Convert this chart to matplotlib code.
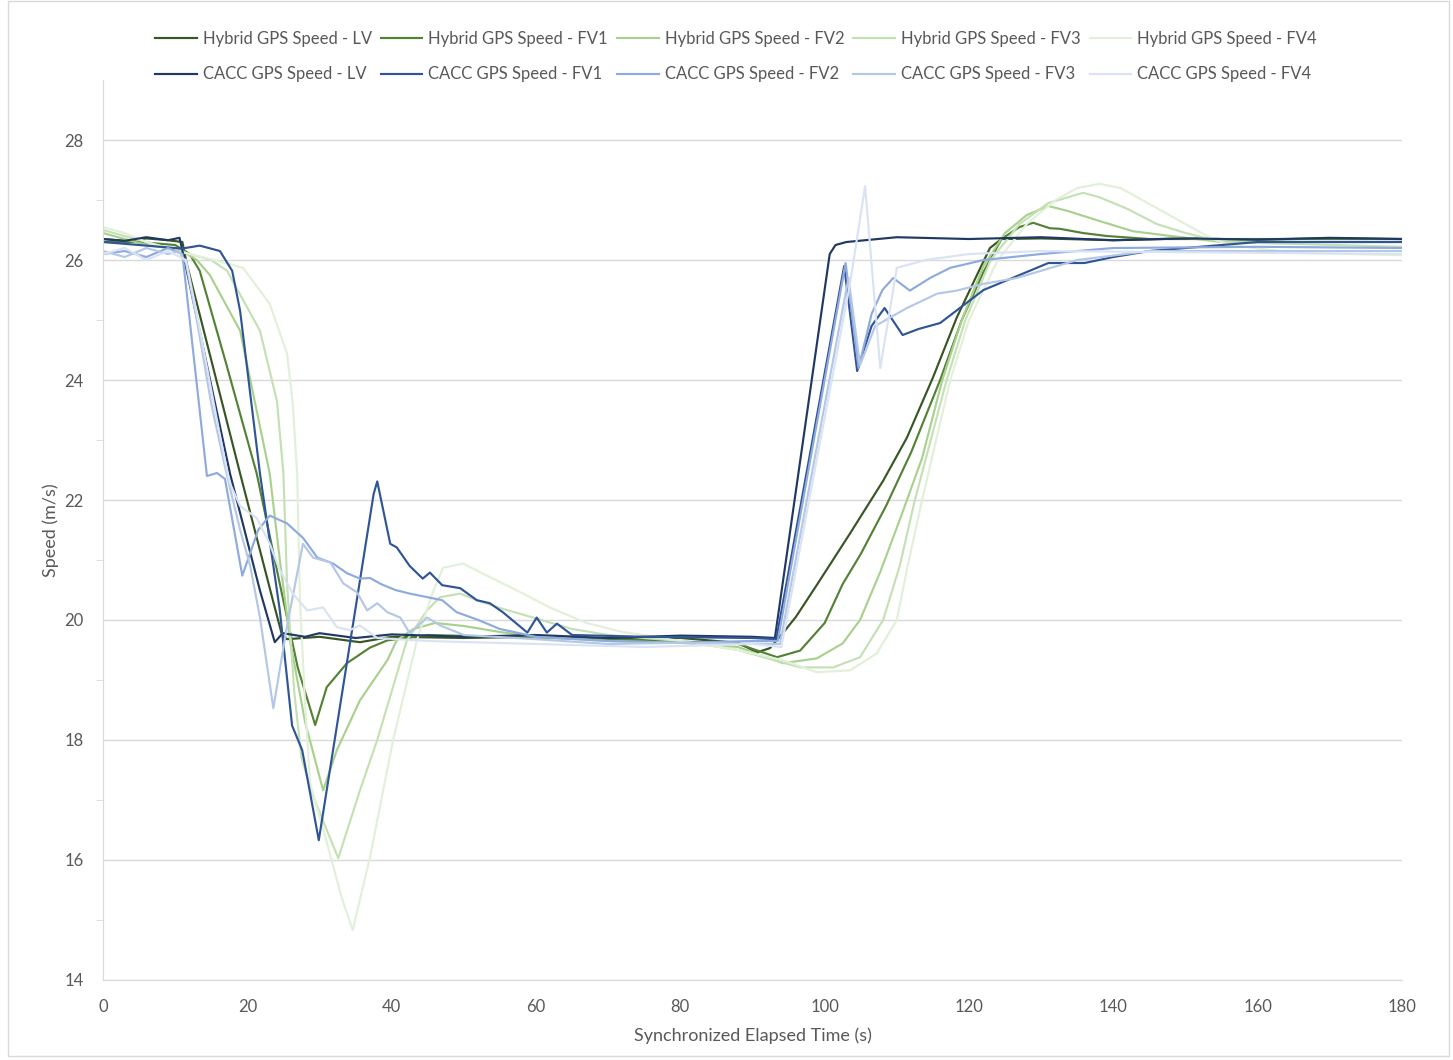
import numpy as np
import matplotlib.pyplot as plt
from matplotlib.patches import Rectangle

plt.rcParams['font.family'] = ['Lato', 'DejaVu Sans']

#%% data (time [s], speed [m/s])

hyb_lv_t = [0, 3, 6, 9, 11, 11.6, 19.0, 23.6, 24.8, 25.5, 30, 35.6, 40, 50, 60, 70, 80, 88,
            90.6, 92.4, 94, 96, 99, 103.5, 108.1, 111.4, 115, 118.3, 121.1, 122.9, 124.5,
            130, 140, 150, 160, 170, 180]
hyb_lv_v = [26.35, 26.32, 26.36, 26.33, 26.3, 25.94, 22.44, 20.3, 19.75, 19.68, 19.72, 19.63, 19.72,
            19.7, 19.72, 19.68, 19.7, 19.62, 19.46, 19.53, 19.75, 20.05, 20.6, 21.44, 22.32, 23.04,
            24.04, 25.04, 25.75, 26.2, 26.35, 26.36, 26.33, 26.36, 26.34, 26.36, 26.35]

hyb_fv1_t = [0, 5, 10, 12, 13.4, 17, 21.3, 24.5, 27, 29.4, 31, 33.8, 37, 39.4, 45, 55, 70, 85, 88,
             93.4, 96.6, 100, 102.5, 105, 108.5, 112, 116, 119, 122, 124.5, 127, 128.9, 131.2,
             132.6, 135.8, 139.1, 145, 180]
hyb_fv1_v = [26.3, 26.3, 26.25, 26.1, 25.82, 24.3, 22.44, 20.6, 19.2, 18.25, 18.88, 19.28, 19.54,
             19.66, 19.75, 19.72, 19.68, 19.62, 19.6, 19.38, 19.49, 19.95, 20.6, 21.1, 21.9, 22.8,
             24.0, 25.0, 25.8, 26.35, 26.55, 26.62, 26.53, 26.52, 26.45, 26.4, 26.35, 26.35]

hyb_fv2_t = [0, 3, 6, 9, 11, 13, 14.8, 19, 23.1, 24.5, 26, 28, 30.5, 32.4, 35.6, 39.4, 40.7, 43,
             46, 50, 55, 60, 70, 80, 88, 94.2, 98.9, 102.5, 104.9, 107.7, 110.5, 113.5, 116.3,
             119, 122, 125, 128, 131, 133.6, 138.1, 142.7, 148, 155, 180]
hyb_fv2_v = [26.45, 26.35, 26.25, 26.2, 26.15, 26.0, 25.75, 24.82, 22.44, 21.0, 19.6, 18.3, 17.16,
             17.83, 18.66, 19.33, 19.66, 19.85, 19.95, 19.9, 19.8, 19.72, 19.65, 19.62, 19.55,
             19.28, 19.36, 19.61, 20.0, 20.8, 21.7, 22.7, 24.0, 25.0, 25.9, 26.45, 26.75, 26.9,
             26.82, 26.65, 26.48, 26.4, 26.3, 26.3]

hyb_fv3_t = [0, 3, 6, 9, 12, 15, 17.2, 21.75, 24.1, 25.0, 25.5, 26.5, 27.5, 29, 31, 32.6, 35.6,
             38, 42.1, 44.9, 46.7, 49.5, 51.8, 55, 59.6, 65, 70, 80, 88, 96.6, 101.2, 104.9,
             108.1, 110.4, 112.5, 116.9, 119.5, 123, 127, 131, 135.8, 138, 142, 146, 150, 155, 180]
hyb_fv3_v = [26.5, 26.4, 26.3, 26.2, 26.1, 26.0, 25.82, 24.82, 23.65, 22.44, 20.6, 18.8, 17.7,
             17.1, 16.5, 16.03, 17.16, 18.0, 19.66, 20.16, 20.38, 20.44, 20.33, 20.2, 20.04, 19.85,
             19.75, 19.65, 19.5, 19.21, 19.21, 19.38, 20.0, 20.9, 22.0, 24.0, 25.0, 26.0, 26.6,
             26.95, 27.12, 27.05, 26.85, 26.6, 26.45, 26.3, 26.22]

hyb_fv4_t = [0, 3, 6, 9, 12, 17, 19.4, 23.1, 25.5, 26.3, 26.9, 27.3, 28, 28.7, 31, 33, 34.6, 37,
             40.2, 43.5, 45.5, 47.1, 49.9, 52.7, 57.4, 61.9, 67, 72, 80, 88, 94.2, 98.9, 103.5,
             107.2, 110, 111.5, 113.5, 117.4, 120, 124, 128, 132, 135, 138.1, 141, 144, 147, 150,
             153, 156, 165, 180]
hyb_fv4_v = [26.55, 26.45, 26.3, 26.2, 26.1, 25.95, 25.87, 25.27, 24.44, 23.6, 22.44, 20.3, 18.6,
             17.28, 16.3, 15.4, 14.83, 16.05, 18.0, 19.66, 20.4, 20.87, 20.94, 20.77, 20.49, 20.21,
             19.95, 19.8, 19.65, 19.5, 19.33, 19.13, 19.16, 19.44, 20.0, 20.9, 22.0, 24.0, 25.0,
             26.0, 26.6, 27.0, 27.2, 27.27, 27.2, 27.0, 26.8, 26.6, 26.4, 26.25, 26.12, 26.08]

cacc_lv_t = [0, 3, 6, 9, 10.6, 11.4, 17.6, 21.75, 23.8, 24.9, 28, 30, 35, 40, 50, 60, 70, 80, 90,
             93.1, 100.7, 101.5, 103, 110, 120, 130, 140, 150, 160, 170, 180]
cacc_lv_v = [26.35, 26.32, 26.38, 26.33, 26.37, 25.94, 22.44, 20.49, 19.63, 19.78, 19.72, 19.78,
             19.7, 19.76, 19.72, 19.75, 19.7, 19.74, 19.72, 19.7, 26.1, 26.25, 26.3, 26.38, 26.35,
             26.38, 26.33, 26.36, 26.34, 26.37, 26.35]

cacc_fv1_t = [0, 5, 10.9, 13.4, 16.2, 17.9, 19.0, 21.75, 24.5, 26.2, 27.6, 29.9, 37.5, 38.0, 39.8,
              40.7, 42.5, 44.3, 45.3, 47.0, 49.5, 51.8, 53.6, 55.4, 58.8, 60.1, 61.5, 62.9, 65,
              75, 90, 93.3, 102.7, 104.5, 106.5, 108.3, 110.8, 113, 116, 122, 126, 131, 136, 140,
              145, 150, 160, 180]
cacc_fv1_v = [26.3, 26.25, 26.19, 26.24, 26.15, 25.82, 25.15, 22.44, 20.16, 18.24, 17.83, 16.33,
              22.1, 22.31, 21.27, 21.21, 20.9, 20.69, 20.79, 20.58, 20.53, 20.33, 20.28, 20.13,
              19.79, 20.04, 19.79, 19.94, 19.75, 19.72, 19.7, 19.68, 25.9, 24.15, 24.9, 25.2,
              24.75, 24.85, 24.95, 25.5, 25.7, 25.95, 25.95, 26.05, 26.15, 26.2, 26.3, 26.3]

cacc_fv2_t = [0, 3, 6, 9, 11, 14.4, 15.8, 16.9, 19.3, 21.5, 23.1, 25.5, 27.7, 29.7, 31.9, 33.8,
              35.6, 37, 38.5, 40.5, 42.5, 47, 49, 52, 55, 60, 70, 80, 90, 93.5, 102.9, 104.7,
              106.5, 108, 109.5, 111.8, 114.6, 117.4, 122, 130, 140, 160, 180]
cacc_fv2_v = [26.1, 26.15, 26.05, 26.2, 26.1, 22.4, 22.45, 22.35, 20.74, 21.5, 21.74, 21.61, 21.37,
              21.04, 20.94, 20.78, 20.69, 20.7, 20.6, 20.5, 20.44, 20.33, 20.13, 20.0, 19.85,
              19.72, 19.65, 19.62, 19.65, 19.65, 25.95, 24.2, 25.1, 25.5, 25.7, 25.49, 25.7, 25.87,
              26.0, 26.1, 26.2, 26.22, 26.2]

cacc_fv3_t = [0, 3, 6, 9, 10.5, 11.5, 13, 15, 17, 19, 20.4, 21.75, 23.6, 25.5, 27.7, 29.1, 31.5,
              33.3, 35.2, 36.6, 38, 39.4, 41.2, 42.5, 44.9, 46.7, 50, 60, 70, 80, 93.8, 103.3,
              104.9, 107, 111.4, 115.6, 118.3, 121.9, 126.6, 135, 145, 180]
cacc_fv3_v = [26.15, 26.05, 26.2, 26.1, 26.15, 25.95, 25.0, 23.6, 22.5, 21.5, 20.9, 20.04, 18.53,
              19.9, 21.27, 21.04, 20.96, 20.61, 20.46, 20.16, 20.28, 20.13, 20.04, 19.78, 20.04,
              19.91, 19.75, 19.68, 19.6, 19.62, 19.6, 25.7, 24.25, 24.9, 25.2, 25.44, 25.49, 25.6,
              25.7, 26.0, 26.15, 26.15]

cacc_fv4_t = [0, 3, 6, 9, 11.5, 13, 16, 17.5, 19, 21.3, 23.1, 24.5, 26.3, 28.3, 30.5, 32.4, 34.2,
              35.6, 38, 45, 60, 75, 90, 94, 103.5, 105.6, 107.7, 110, 114, 120, 130, 180]
cacc_fv4_v = [26.1, 26.2, 26.0, 26.15, 26.0, 25.1, 23.2, 22.3, 21.9, 21.7, 21.27, 20.83, 20.44,
              20.16, 20.21, 19.88, 19.83, 19.91, 19.7, 19.65, 19.6, 19.55, 19.6, 19.55, 25.6,
              27.23, 24.2, 25.87, 26.0, 26.1, 26.15, 26.1]

hyb_names = ['LV', 'FV1', 'FV2', 'FV3', 'FV4']
hyb_t = [hyb_lv_t, hyb_fv1_t, hyb_fv2_t, hyb_fv3_t, hyb_fv4_t]
hyb_v = [hyb_lv_v, hyb_fv1_v, hyb_fv2_v, hyb_fv3_v, hyb_fv4_v]
cacc_t = [cacc_lv_t, cacc_fv1_t, cacc_fv2_t, cacc_fv3_t, cacc_fv4_t]
cacc_v = [cacc_lv_v, cacc_fv1_v, cacc_fv2_v, cacc_fv3_v, cacc_fv4_v]

hyb_col = ['#375623', '#548235', '#A9D18E', '#C5E0B4', '#E2F0D9']
cacc_col = ['#203864', '#2F5597', '#8FAADC', '#B4C7E7', '#DAE3F3']

#%% plot

fig = plt.figure(figsize=(14.53, 10.6), dpi=100)
ax = fig.add_axes([0.0709, 0.0755, 0.894, 0.849])

h_hyb, h_cacc = [], []
for i in range(5):
    l, = ax.plot(hyb_t[i], hyb_v[i], color=hyb_col[i], lw=1.55,
                 label='Hybrid GPS Speed - ' + hyb_names[i])
    h_hyb.append(l)
for i in range(5):
    l, = ax.plot(cacc_t[i], cacc_v[i], color=cacc_col[i], lw=1.55,
                 label='CACC GPS Speed - ' + hyb_names[i])
    h_cacc.append(l)

ax.set_xlim(0, 180)
ax.set_ylim(14, 29)
ax.set_xticks(np.arange(0, 181, 20))
ax.set_yticks(np.arange(14, 29, 2))
ax.set_yticks(np.arange(15, 29, 2), minor=True)
ax.grid(True, axis='y', which='major', color='#D9D9D9', lw=1)
ax.set_axisbelow(True)
for s in ['top', 'right']:
    ax.spines[s].set_visible(False)
for s in ['left', 'bottom']:
    ax.spines[s].set_color('#D9D9D9')
ax.tick_params(axis='both', which='major', length=0, labelsize=12, colors='#595959')
ax.tick_params(axis='x', pad=14)
ax.tick_params(axis='y', pad=14)
ax.tick_params(axis='y', which='minor', length=5, color='#D9D9D9', direction='out')

ax.set_xlabel('Synchronized Elapsed Time (s)', fontsize=13, color='#595959', labelpad=9)
ax.set_ylabel('Speed (m/s)', fontsize=13, color='#595959', labelpad=4)

handles = []
for i in range(5):
    handles += [h_hyb[i], h_cacc[i]]
fig.legend(handles=handles, labels=[h.get_label() for h in handles], ncol=5,
           loc='upper left', bbox_to_anchor=(0.1067, 0.9705), frameon=False,
           fontsize=12, labelcolor='#595959', handlelength=2.5, handletextpad=0.35,
           columnspacing=0.55, labelspacing=1.15, borderpad=0, borderaxespad=0)

fig.patches.append(Rectangle((0.0055, 0.004), 0.9915, 0.995, transform=fig.transFigure,
                             fill=False, edgecolor='#D9D9D9', lw=1))

fig.savefig('out.png', dpi=100)
